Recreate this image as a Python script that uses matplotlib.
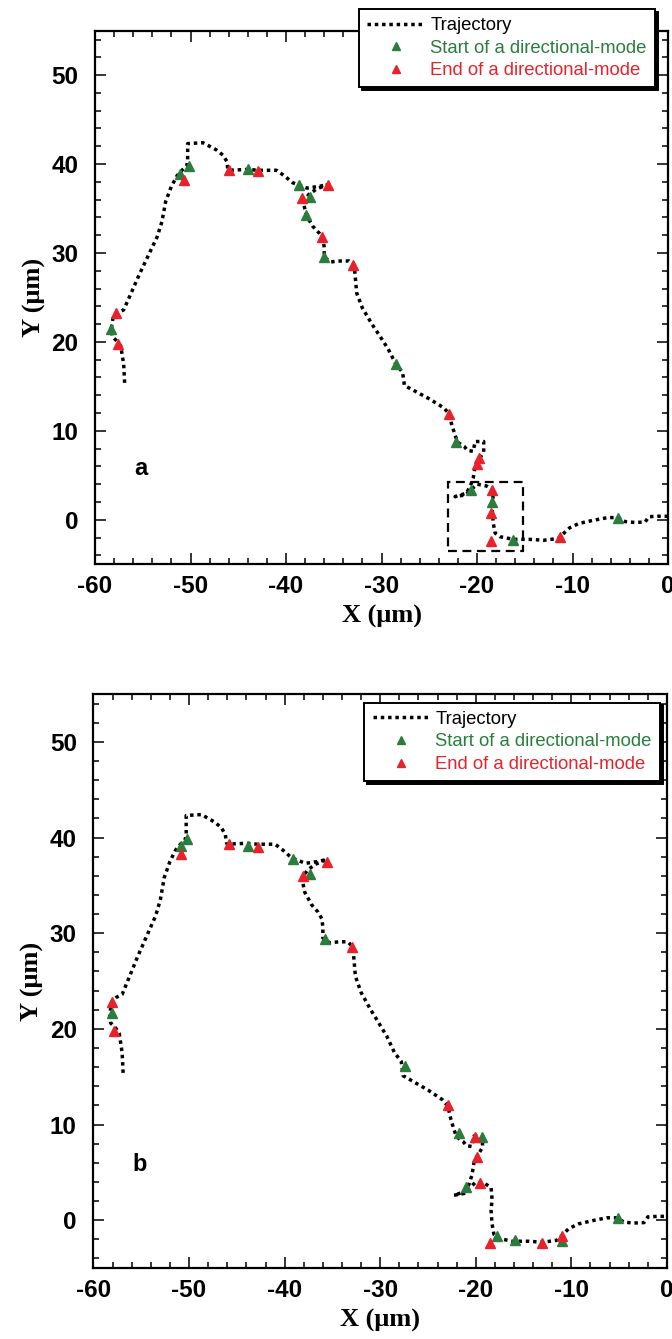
import numpy as np
import matplotlib.pyplot as plt
from matplotlib.patches import Rectangle

plt.rcParams['axes.unicode_minus'] = False

# trajectory (um), same path in both panels
traj_x = [-56.9, -57.0, -57.3, -57.6, -58.2, -58.3, -58.1, -57.6, -57.0, -56.3, -55.4, -54.3,
          -53.5, -53.0, -52.6, -52.0, -51.4, -50.9, -50.4, -50.3, -50.3, -48.7, -47.3, -46.6,
          -46.2, -46.1, -46.0, -44.0, -42.9, -41.0, -40.2, -39.3, -38.6, -37.8, -36.5, -35.6,
          -36.8, -37.6, -38.2, -37.9, -37.2, -36.5, -36.1, -36.0, -36.0, -35.3, -34.3, -33.4,
          -33.0, -32.8, -32.6, -32.0, -31.0, -30.2, -29.3, -28.5, -27.8, -27.6, -26.9, -25.0,
          -23.5, -22.9, -22.7, -22.3, -22.0, -21.3, -21.0, -20.4, -20.2, -19.3, -19.3, -19.8,
          -20.2, -20.4, -20.7, -21.1, -22.3, -21.2, -20.6, -20.0, -19.0, -18.4, -18.3, -18.4,
          -18.3, -18.1, -17.6, -16.2, -14.5, -13.0, -11.5, -10.3, -9.3, -7.8, -6.3, -5.2,
          -4.5, -3.5, -2.4, -2.0, -1.0, 0.0]
traj_y = [15.4, 17.5, 19.5, 20.0, 20.6, 21.5, 22.8, 23.3, 23.6, 25.3, 27.5, 30.0,
          31.8, 33.5, 35.8, 37.5, 38.7, 39.3, 39.8, 40.3, 42.3, 42.4, 41.6, 41.0,
          40.3, 39.5, 39.3, 39.4, 39.3, 39.3, 38.7, 37.9, 37.6, 37.3, 37.5, 37.7,
          37.2, 36.6, 35.8, 34.3, 33.0, 32.2, 31.5, 30.6, 29.5, 29.0, 29.1, 29.1,
          28.7, 27.9, 25.5, 23.8, 22.0, 20.7, 19.2, 17.5, 16.6, 15.1, 14.7, 13.6,
          12.6, 11.9, 10.9, 9.5, 8.7, 8.2, 7.8, 7.7, 8.8, 8.8, 7.6, 6.8,
          6.0, 4.7, 3.8, 3.0, 2.6, 2.8, 3.4, 4.0, 3.8, 3.4, 2.2, 1.0,
          -0.4, -1.5, -1.9, -2.2, -2.2, -2.3, -2.1, -0.9, -0.4, -0.05, 0.25, 0.25,
          -0.2, -0.3, -0.25, 0.35, 0.4, 0.4]

# panel a: start / end of directional modes
start_a_x = [-58.3, -51.1, -50.2, -44.0, -38.6, -37.5, -37.9, -36.0, -28.5, -22.2, -20.6, -18.4, -16.2, -5.2]
start_a_y = [21.5, 38.9, 39.8, 39.4, 37.6, 36.3, 34.3, 29.5, 17.5, 8.7, 3.4, 2.0, -2.3, 0.2]
end_a_x = [-57.6, -57.8, -50.7, -46.0, -42.9, -38.3, -35.6, -36.2, -33.0, -22.9, -19.8, -20.0,
           -18.4, -18.5, -18.5, -11.3]
end_a_y = [19.8, 23.2, 38.2, 39.3, 39.2, 36.2, 37.7, 31.8, 28.7, 11.9, 6.9, 6.3,
           3.3, 0.8, -2.4, -1.9]

# panel b
start_b_x = [-58.1, -50.8, -50.2, -43.8, -39.1, -37.3, -35.8, -27.4, -21.8, -19.4, -21.0, -17.8, -15.9, -11.0, -5.1]
start_b_y = [21.7, 39.1, 39.8, 39.1, 37.8, 36.2, 29.4, 16.1, 9.1, 8.7, 3.5, -1.7, -2.1, -2.2, 0.2]
end_b_x = [-57.9, -58.1, -50.8, -45.8, -42.8, -35.6, -38.1, -33.0, -22.9, -20.1, -19.9, -19.6, -18.5, -13.1, -11.0]
end_b_y = [19.8, 22.8, 38.3, 39.3, 39.0, 37.4, 36.0, 28.6, 12.0, 8.7, 6.6, 3.9, -2.4, -2.4, -1.7]

green = '#2a7d3c'
red = '#e8222b'

fig = plt.figure(figsize=(6.72, 13.39), dpi=100)
ax_a = fig.add_axes([0.1414, 0.5786, 0.8527, 0.3985])
ax_b = fig.add_axes([0.1391, 0.0530, 0.8534, 0.4287])


def draw(ax, sx, sy, ex, ey, tag, leg_anchor):
    ax.plot(traj_x, traj_y, color='k', lw=2.5, ls=(0, (1.0, 1.1)), label='Trajectory', zorder=2)
    ax.plot(sx, sy, '^', color=green, ms=7, mec=green, ls='none',
            label='Start of a directional-mode', zorder=3)
    ax.plot(ex, ey, '^', color=red, ms=7, mec=red, ls='none',
            label='End of a directional-mode', zorder=4)
    ax.set_xlim(-60, 0)
    ax.set_ylim(-5, 55)
    ax.set_xticks(np.arange(-60, 1, 10))
    ax.set_yticks(np.arange(0, 51, 10))
    ax.set_xticks(np.arange(-60, 1, 2), minor=True)
    ax.set_yticks(np.arange(-4, 55, 2), minor=True)
    ax.tick_params(which='both', direction='in', top=True, right=True, width=1.1)
    ax.tick_params(which='major', length=8)
    ax.tick_params(which='minor', length=4)
    ax.tick_params(axis='y', pad=12)
    ax.tick_params(axis='x', pad=8)
    for lab in ax.get_xticklabels() + ax.get_yticklabels():
        lab.set_fontfamily('Liberation Sans')
        lab.set_fontweight('bold')
        lab.set_fontsize(17.5)
    for sp in ax.spines.values():
        sp.set_linewidth(1.6)
    ax.set_xlabel('X (\u03bcm)', family='Liberation Serif', weight='bold', fontsize=19, labelpad=5)
    ax.set_ylabel('Y (\u03bcm)', family='Liberation Serif', weight='bold', fontsize=19, labelpad=4)
    ax.text(-55.2, 5.8, tag, family='Liberation Sans', weight='bold', fontsize=17,
            ha='center', va='center')
    leg = ax.legend(loc='upper right', bbox_to_anchor=leg_anchor, frameon=True, fancybox=False,
                    shadow={'color': 'k', 'alpha': 1.0}, framealpha=1, edgecolor='k',
                    prop={'family': 'Liberation Sans', 'size': 13.3}, handlelength=3.1,
                    handletextpad=0.3, labelspacing=0.3, borderpad=0.45, borderaxespad=0,
                    markerscale=0.75)
    leg.get_frame().set_linewidth(1.4)
    leg.set_zorder(10)
    texts = leg.get_texts()
    texts[1].set_color(green)
    texts[2].set_color(red)


draw(ax_a, start_a_x, start_a_y, end_a_x, end_a_y, 'a', (0.977, 1.041))
draw(ax_b, start_b_x, start_b_y, end_b_x, end_b_y, 'b', (0.988, 0.985))

# zoom box in panel a
ax_a.add_patch(Rectangle((-23.0, -3.5), 7.8, 7.75, fill=False, ec='k', lw=1.6,
                         ls=(0, (4, 2.5)), zorder=2))

fig.savefig('out.png', dpi=100)
